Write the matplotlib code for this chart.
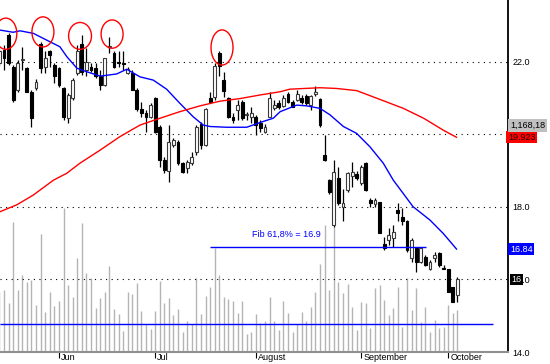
import matplotlib
matplotlib.use("Agg")
import matplotlib.pyplot as plt
import matplotlib.transforms as mtransforms
from matplotlib.patches import Rectangle, Ellipse
import numpy as np

plt.rcParams["font.family"] = ["Liberation Sans", "DejaVu Sans"]

# daily OHLC, first bar is cut by the left edge
opens = [21.96, 22.33, 22.74, 21.87, 21.23, 22.06, 21.83, 21.18, 21.27, 22.51, 21.87,
         22.29, 21.92, 21.83, 21.27, 20.45, 21.00, 21.69, 22.51, 21.78, 21.87,
         21.83, 21.60, 21.37, 22.40, 22.24, 22.00, 21.96, 21.69, 21.69, 21.23,
         20.69, 20.60, 20.49, 21.00, 20.22, 19.30, 19.00, 19.71, 19.80, 19.20,
         19.07, 19.20, 19.53, 20.30, 19.71, 21.00, 21.04, 22.24, 21.50, 21.00,
         20.49, 20.68, 20.90, 20.53, 20.49, 20.49, 20.31, 20.08, 20.49, 20.72,
         20.86, 20.79, 21.13, 20.90, 20.95, 21.00, 21.06, 20.81, 21.13, 20.97,
         19.43, 18.74, 17.50, 18.79, 18.01, 18.47, 18.85, 18.90, 18.65, 19.20,
         18.20, 18.08, 18.13, 16.99, 17.09, 17.14, 17.92, 17.73, 17.60, 16.58,
         16.86, 16.49, 16.63, 16.28, 16.58, 16.72, 16.31, 16.29, 15.78, 15.57]
highs = [22.35, 22.47, 22.79, 21.92, 22.05, 22.42, 21.87, 21.23, 21.52, 22.56, 22.29,
         22.33, 21.96, 21.87, 21.30, 21.14, 21.55, 22.47, 22.74, 22.38, 21.96,
         21.96, 21.78, 22.12, 22.70, 22.29, 22.29, 22.29, 21.85, 21.78, 21.27,
         20.90, 20.67, 20.86, 21.04, 20.26, 19.39, 20.26, 19.90, 19.85, 19.25,
         19.30, 19.52, 20.26, 20.35, 20.72, 21.18, 21.96, 22.29, 21.73, 21.04,
         20.58, 20.95, 20.95, 20.63, 20.77, 20.54, 20.40, 20.30, 21.18, 20.95,
         20.95, 21.10, 21.18, 20.95, 21.23, 21.10, 21.13, 21.09, 21.33, 21.00,
         19.99, 18.77, 19.30, 19.10, 18.50, 18.97, 19.25, 19.00, 19.15, 19.25,
         18.24, 18.24, 18.15, 17.18, 17.41, 17.50, 18.10, 17.96, 17.64, 17.14,
         16.90, 16.90, 16.67, 16.54, 16.77, 16.77, 16.40, 16.30, 15.80, 16.08]
lows = [21.90, 21.78, 21.92, 20.90, 21.18, 21.78, 21.18, 20.22, 21.23, 21.69, 21.69,
        21.87, 21.41, 21.32, 20.40, 20.31, 20.95, 21.64, 21.64, 21.60, 21.73,
        21.55, 21.23, 21.35, 22.24, 21.83, 21.87, 21.78, 21.66, 21.23, 20.65,
        20.49, 20.08, 20.45, 20.04, 19.11, 18.93, 18.70, 19.66, 19.16, 18.93,
        18.93, 19.16, 19.44, 19.60, 19.69, 20.86, 20.95, 21.60, 21.04, 20.45,
        20.31, 20.40, 20.40, 20.40, 20.31, 19.99, 20.08, 20.05, 20.47, 20.68,
        20.70, 20.75, 20.86, 20.75, 20.93, 20.85, 20.82, 20.67, 21.05, 20.22,
        19.28, 18.35, 17.46, 18.05, 17.60, 18.42, 18.56, 18.75, 18.60, 18.45,
        18.00, 18.00, 17.27, 16.81, 16.95, 16.90, 17.60, 17.50, 16.77, 16.49,
        16.22, 16.45, 16.38, 16.26, 16.49, 16.35, 16.28, 15.66, 15.39, 15.39]
closes = [22.29, 22.10, 21.96, 20.95, 21.96, 22.08, 21.18, 20.45, 21.46, 21.83, 22.10,
          22.19, 21.60, 21.37, 20.49, 21.09, 21.50, 22.29, 21.73, 22.01, 21.78,
          21.60, 21.37, 22.10, 22.43, 21.87, 21.98, 21.94, 21.80, 21.23, 20.69,
          20.60, 20.49, 20.81, 20.08, 19.30, 19.02, 19.80, 19.85, 19.20, 18.97,
          19.25, 19.39, 20.22, 19.70, 20.69, 20.90, 21.89, 21.89, 21.21, 20.49,
          20.40, 20.81, 20.45, 20.55, 20.60, 20.26, 20.17, 20.22, 21.00, 20.81,
          20.75, 21.00, 20.90, 20.77, 21.13, 20.90, 20.86, 21.05, 21.15, 20.25,
          19.30, 18.40, 18.97, 18.10, 18.10, 18.93, 18.97, 18.80, 19.10, 18.47,
          18.10, 18.18, 17.27, 16.88, 17.23, 17.32, 17.83, 17.60, 16.81, 17.09,
          16.49, 16.86, 16.40, 16.49, 16.67, 16.40, 16.30, 15.66, 15.39, 16.00]
volumes = [600, 620, 487, 1303, 620, 770, 703, 720, 470, 1180, 403,
           597, 460, 513, 1437, 670, 553, 943, 1293, 787, 737,
           443, 537, 597, 860, 430, 377, 213, 603, 580, 693,
           410, 283, 233, 410, 713, 487, 537, 370, 427, 197,
           310, 280, 743, 380, 563, 647, 1037, 770, 553, 533,
           510, 393, 510, 177, 203, 380, 287, 310, 553, 313,
           220, 513, 393, 200, 280, 403, 313, 453, 603, 880,
           1270, 620, 1250, 703, 593, 680, 453, 220, 503, 490,
           240, 640, 670, 520, 370, 440, 650, 250, 740, 420,
           640, 300, 450, 200, 320, 240, 250, 470, 390, 420]
volume_avg = 283

# moving averages (bar index, price)
blue_ma_x = [-0.87, 2.0, 3.5, 6.4, 10.0, 12.2, 13.7, 15.9, 18.1, 21.0, 24.6, 26.8,
             29.7, 32.6, 35.5, 38.4, 41.3, 43.5, 45.0, 48.6, 53.0, 55.9, 58.8,
             60.3, 63.9, 66.1, 69.0, 71.2, 74.1, 77.0, 79.9, 82.8, 85.0, 89.3,
             93.0, 95.9, 98.8]
blue_ma_y = [22.88, 22.82, 22.86, 22.79, 22.56, 22.42, 22.15, 21.83, 21.73, 21.61,
             21.67, 21.80, 21.59, 21.50, 21.25, 20.86, 20.49, 20.26, 20.22, 20.20,
             20.20, 20.33, 20.45, 20.63, 20.81, 20.79, 20.72, 20.54, 20.22, 20.03,
             19.66, 19.21, 18.74, 18.01, 17.64, 17.27, 16.84]
red_ma_x = [-0.87, 2.8, 6.4, 10.8, 13.7, 16.6, 21.0, 25.3, 29.7, 34.1, 38.4, 42.8,
            47.2, 51.5, 55.9, 60.3, 62.4, 69.0, 72.6, 77.0, 81.4, 87.2, 91.6,
            95.9, 98.8]
red_ma_y = [17.87, 18.06, 18.33, 18.74, 18.93, 19.21, 19.57, 19.94, 20.26, 20.45,
            20.63, 20.79, 20.92, 20.99, 21.09, 21.18, 21.25, 21.29, 21.27, 21.21,
            21.00, 20.72, 20.45, 20.12, 19.923]

month_pos = [12, 33, 55, 78, 97]
month_labels = ["Jun", "Jul", "August", "September", "October"]
price_ticks = [14, 16, 18, 20, 22]

fib_level = 16.9
fib_start, fib_end = 45, 92.1
fib_label = "Fib 61,8% = 16.9"

# red rings around the swing highs: (x, y, width, height)
rings = [(0.4, 22.78, 4.8, 0.86), (8.5, 22.83, 4.8, 0.83), (16.6, 22.72, 5.0, 0.74),
         (23.6, 22.77, 4.8, 0.78), (47.6, 22.40, 4.8, 0.97)]

x = np.arange(len(opens)) - 1
up = np.array(closes) >= np.array(opens)

fig = plt.figure(figsize=(5.5, 3.64), dpi=100)
rect = [0, 12 / 364, 508 / 550, 352 / 364]
ax_vol = fig.add_axes(rect)
ax = fig.add_axes(rect, sharex=ax_vol)
ax.set_facecolor("none")

# volume pane
ax_vol.vlines(x, 0, volumes, colors="#b4b4b4", linewidth=1.0)
ax_vol.hlines(volume_avg, -0.87, 106.8, colors="#0000ff", linewidth=1.0)
ax_vol.set_ylim(0, 3520)
ax_vol.axis("off")

# price pane
for lvl in price_ticks:
    ax.axhline(lvl, color="black", linestyle=(0, (1, 4)), linewidth=0.8, zorder=1)

ax.vlines(x, lows, highs, colors="black", linewidth=0.9, zorder=3)
for xi, o, c, is_up in zip(x, opens, closes, up):
    body = max(abs(c - o), 0.03)
    ax.add_patch(Rectangle((xi - 0.31, min(o, c)), 0.62, body,
                           facecolor="white" if is_up else "black",
                           edgecolor="#3a3a3a" if is_up else "black",
                           linewidth=0.8, zorder=4))

ax.plot(blue_ma_x, blue_ma_y, color="#0000ff", linewidth=1.0, zorder=5)
ax.plot(red_ma_x, red_ma_y, color="#ff0000", linewidth=1.0, zorder=5)

for cx, cy, w, h in rings:
    ax.add_patch(Ellipse((cx, cy), w, h, fill=False, edgecolor="#ff0000",
                         linewidth=1.0, zorder=6))

ax.hlines(fib_level, fib_start, fib_end, colors="#0000ff", linewidth=1.0, zorder=5)
ax.text(54.1, 17.25, fib_label, color="#0000ff", fontsize=6.5,
        ha="left", va="center", zorder=6)

ax.set_xlim(-0.873, 110.04)
ax.set_ylim(14.0, 23.71)

for side in ["left", "top"]:
    ax.spines[side].set_visible(False)
ax.spines["right"].set_color("black")
ax.spines["right"].set_linewidth(1.3)
ax.spines["bottom"].set_color("#909090")
ax.spines["bottom"].set_linewidth(1.5)

ax.yaxis.tick_right()
ax.set_yticks(price_ticks)
ax.set_yticklabels([f"{t:.1f}" for t in price_ticks], fontsize=6.5)
ax.tick_params(axis="y", length=0, pad=3)

ax.set_xticks(month_pos)
ax.set_xticklabels(month_labels, fontsize=6.5, ha="left")
ax.tick_params(axis="x", length=4, width=0.8, color="black", pad=-3.2, direction="out")
offset = mtransforms.ScaledTranslation(2 / 100, 0, fig.dpi_scale_trans)
for lab in ax.get_xticklabels():
    lab.set_transform(lab.get_transform() + offset)

# last-value boxes on the price scale
edge = mtransforms.blended_transform_factory(ax.transAxes, ax.transData)
ax.text(1.0, red_ma_y[-1], "19.923", transform=edge, fontsize=6.5, color="#200000",
        ha="left", va="center", clip_on=False, zorder=7,
        bbox=dict(boxstyle="square,pad=0.18", facecolor="#ff0000", edgecolor="none"))
ax.text(1.004, 20.25, "1,168,18", transform=edge, fontsize=6.5, color="black",
        ha="left", va="center", clip_on=False, zorder=8,
        bbox=dict(boxstyle="square,pad=0.18", facecolor="#c0c0c0", edgecolor="none"))
ax.text(1.004, blue_ma_y[-1], "16.84", transform=edge, fontsize=6.5, color="white",
        ha="left", va="center", clip_on=False, zorder=7,
        bbox=dict(boxstyle="square,pad=0.18", facecolor="#0000ff", edgecolor="none"))
ax.text(1.006, closes[-1], "16", transform=edge, fontsize=6.5, color="white",
        ha="left", va="center", clip_on=False, zorder=7,
        bbox=dict(boxstyle="square,pad=0.15", facecolor="black", edgecolor="none"))

fig.savefig("out.png", dpi=100)
